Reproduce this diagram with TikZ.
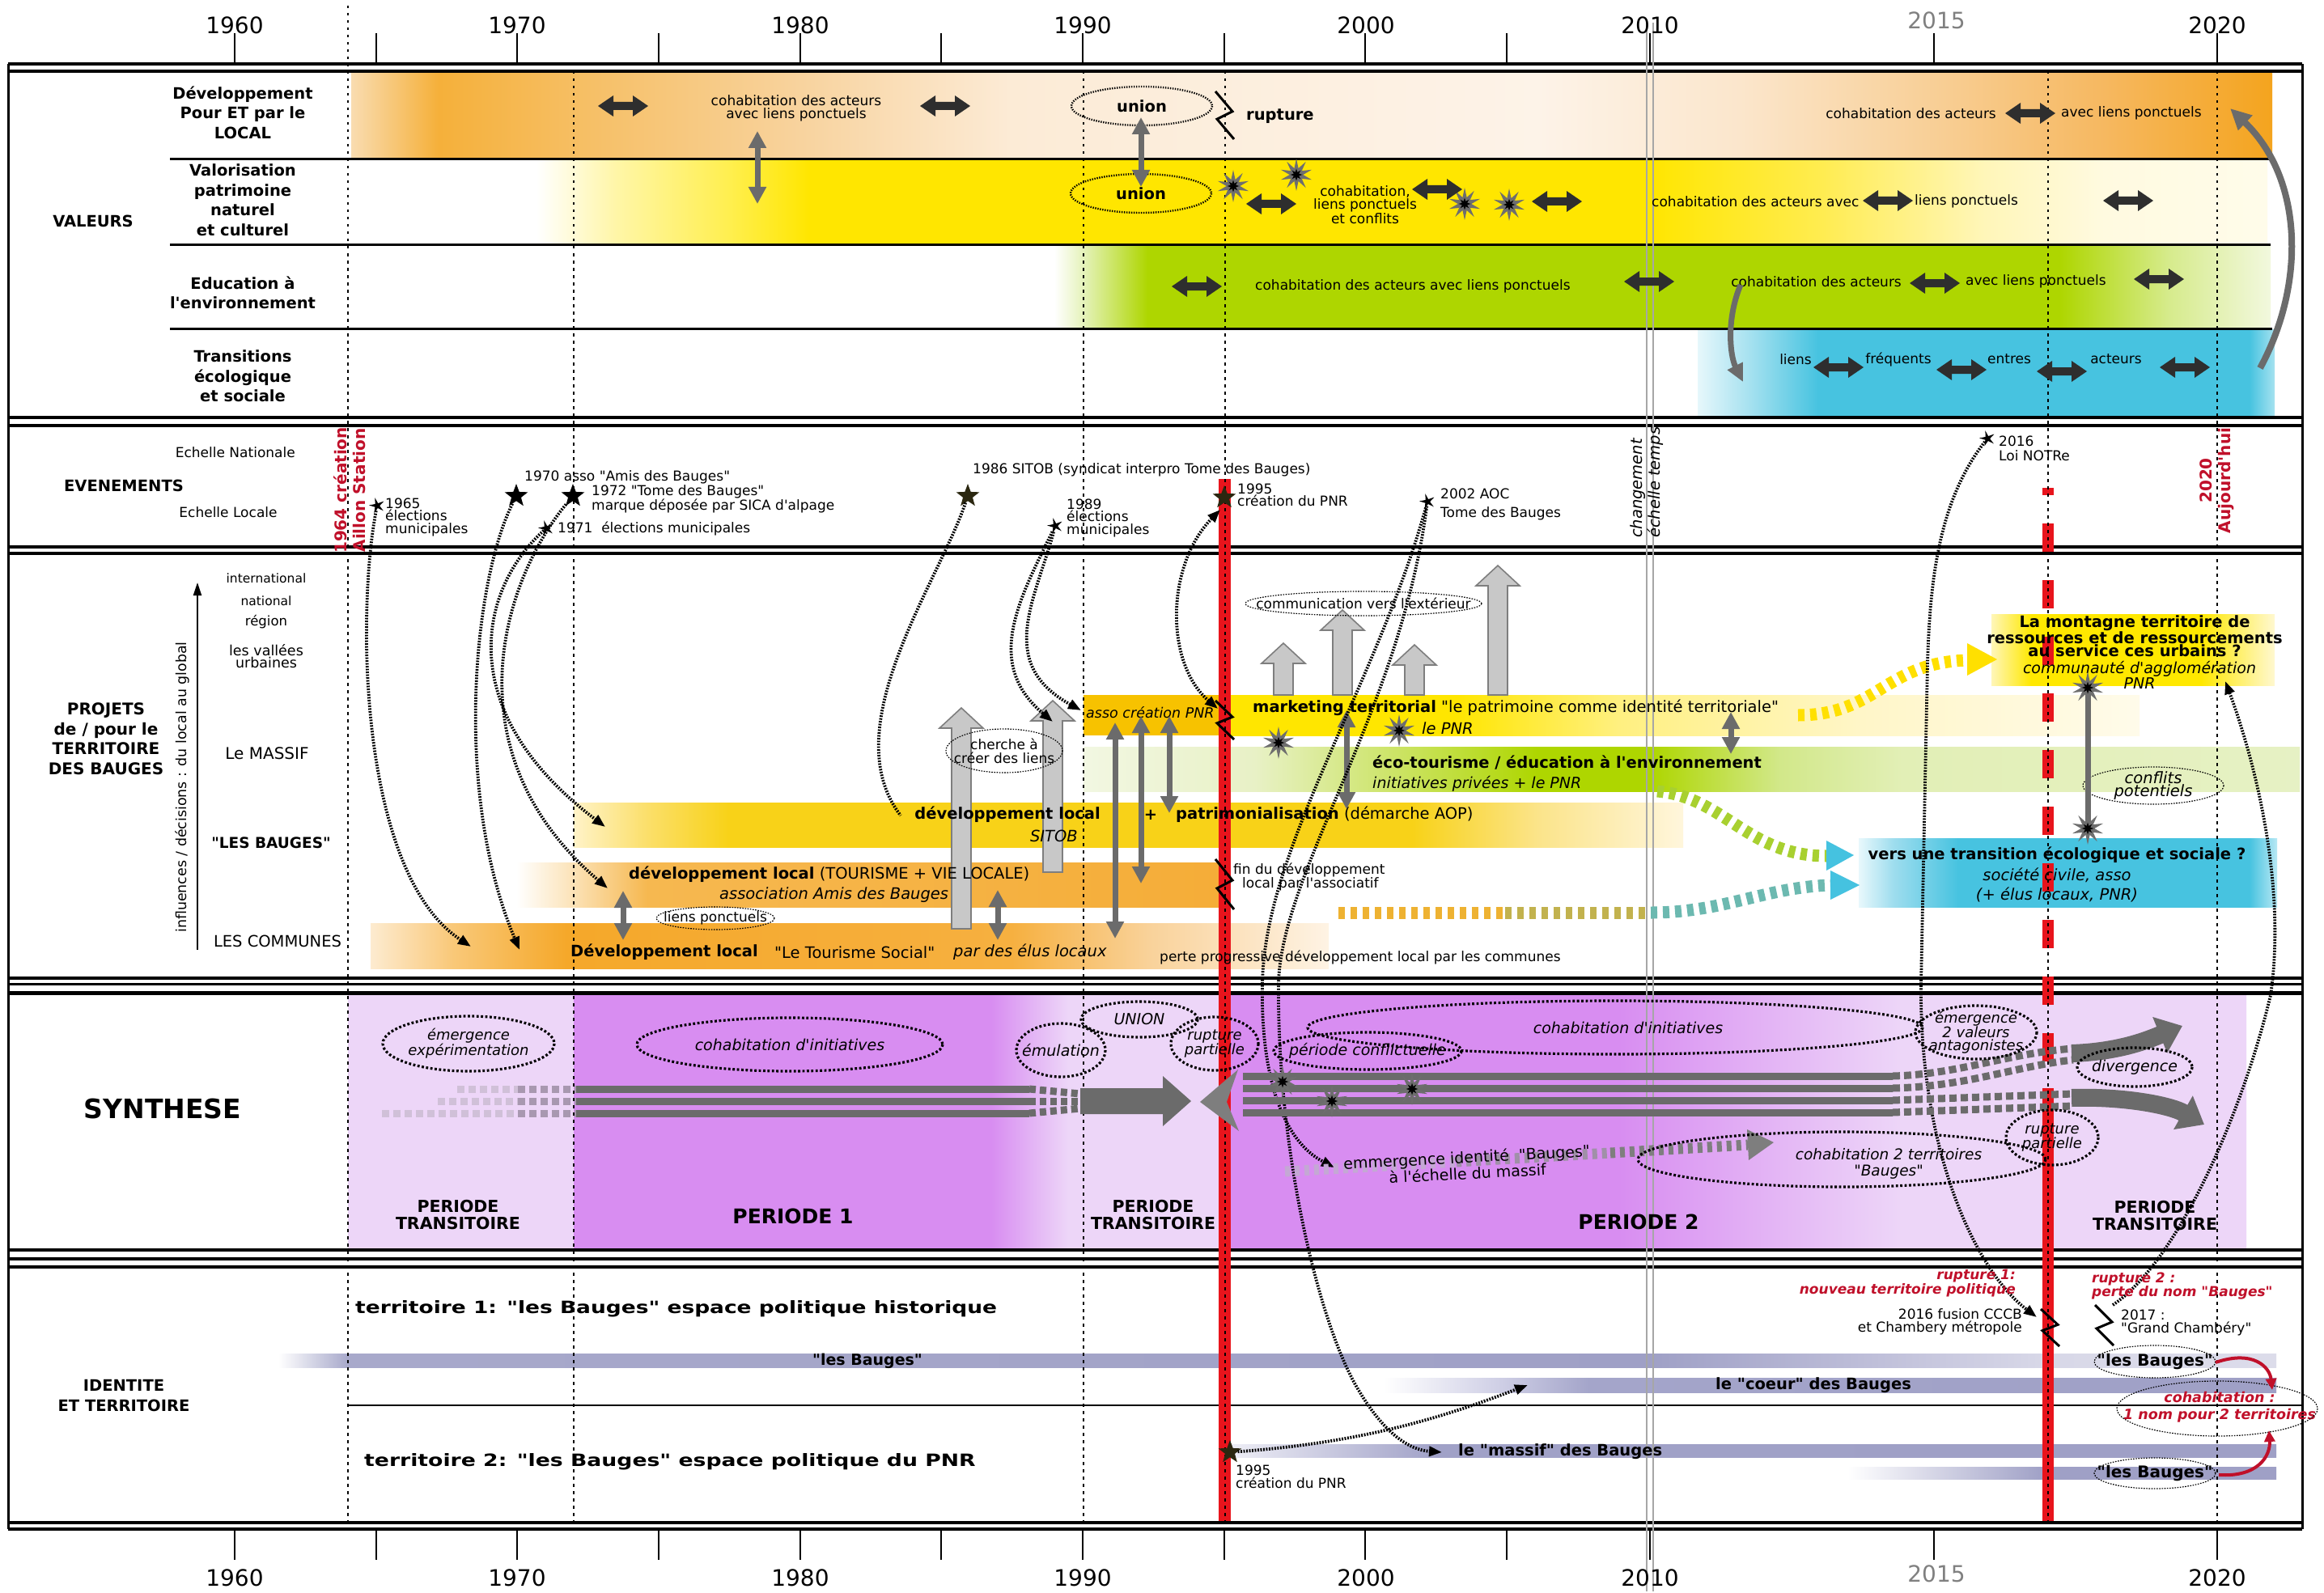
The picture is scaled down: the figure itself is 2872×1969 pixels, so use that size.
\documentclass[tikz,border=0pt]{standalone}
\usepackage{fontspec}
\setmainfont{DejaVu Sans}
\newfontfamily\dvs{DejaVu Sans}
\usepackage{graphicx}
\usetikzlibrary{shapes.geometric,arrows.meta}
\newcommand\fz[2]{\fontsize{#1}{#2}\selectfont}
\newcommand\hx[1]{\definecolor{x#1}{HTML}{#1}}
\hx{FFFFFF}\hx{F9DCB0}\hx{F5B03A}\hx{F6BE62}\hx{F8D39E}\hx{FCEBD6}\hx{FDF3E8}\hx{FBE6CC}\hx{F8CE94}\hx{F6B860}\hx{F4A41E}
\hx{FFF6A8}\hx{FFEF50}\hx{FFE600}\hx{FFEC50}\hx{FFF6B8}\hx{FFFAE0}\hx{FFFCEA}
\hx{E4F2B8}\hx{AED600}\hx{D6EB8C}\hx{F2F8DE}
\hx{E6F7FB}\hx{A8E2F0}\hx{47C3E0}\hx{A6E2F0}
\hx{FFF3C8}\hx{FBDF6A}\hx{F8D218}\hx{FBE48A}\hx{FFF6DC}
\hx{FCE6C0}\hx{F6B850}\hx{F5AD38}
\hx{FDEBD0}\hx{F9C878}\hx{F5A82A}\hx{F6B040}\hx{F9D29A}\hx{FEF3E4}
\hx{FFF080}\hx{FFF6C8}\hx{FFFBEA}
\hx{F2F7E2}\hx{E8F1C6}\hx{C8E258}\hx{D2E88A}\hx{E2EFB6}\hx{E6F1C4}
\hx{FFE800}\hx{FFF8D0}
\hx{E8F8FC}\hx{9EDDEE}\hx{B8E8F4}
\hx{D88DF1}\hx{EDD6F8}
\hx{A8A9CB}\hx{9FA0C6}\hx{BDBDD8}\hx{D8D8E8}\hx{DCDCEA}\hx{D0D0E6}\hx{A4A5CA}\hx{EEEEF6}\hx{A0A1C7}
\hx{D0C0D8}\hx{A898B0}\hx{C4A8D4}\hx{A090A8}\hx{7E7E7E}\hx{EEB232}\hx{C2B24E}\hx{6CB9B0}
\definecolor{dk}{HTML}{2E2E2E}
\definecolor{gdark}{HTML}{6B6B6B}
\definecolor{ltg}{HTML}{C8C8C8}
\definecolor{midg}{HTML}{7E7E7E}
\definecolor{boomg}{HTML}{6E6E6E}
\definecolor{redbar}{HTML}{E8141C}
\definecolor{rtxt}{HTML}{C0102A}
\definecolor{olivestar}{HTML}{2B2710}
\definecolor{goldb}{HTML}{F7C200}
\definecolor{yelA}{HTML}{FFE000}
\definecolor{grnA}{HTML}{A8D030}
\definecolor{cyanH}{HTML}{45C2E0}
\pgfdeclarehorizontalshading{sr1}{100bp}{color(0bp)=(xF9DCB0); color(25bp)=(xF9DCB0); color(27.27bp)=(xF5B03A); color(30.79bp)=(xF6BE62); color(36.71bp)=(xF8D39E); color(42.19bp)=(xFCEBD6); color(55.88bp)=(xFDF3E8); color(61.14bp)=(xFBE6CC); color(66.41bp)=(xF8CE94); color(70.62bp)=(xF6B860); color(75bp)=(xF4A41E); color(100bp)=(xF4A41E)}
\pgfdeclarehorizontalshading{sr2}{100bp}{color(0bp)=(xFFFFFF); color(25bp)=(xFFFFFF); color(27.27bp)=(xFFF6A8); color(30.54bp)=(xFFEF50); color(32.88bp)=(xFFE600); color(57.19bp)=(xFFE600); color(62.1bp)=(xFFEC50); color(66.77bp)=(xFFF6B8); color(70.28bp)=(xFFFAE0); color(75bp)=(xFFFCEA); color(100bp)=(xFFFCEA)}
\pgfdeclarehorizontalshading{sr3}{100bp}{color(0bp)=(xFFFFFF); color(25bp)=(xFFFFFF); color(26.23bp)=(xE4F2B8); color(28.83bp)=(xAED600); color(66.32bp)=(xAED600); color(70.81bp)=(xD6EB8C); color(75bp)=(xF2F8DE); color(100bp)=(xF2F8DE)}
\pgfdeclarehorizontalshading{sr4}{100bp}{color(0bp)=(xE6F7FB); color(25bp)=(xE6F7FB); color(29.35bp)=(xA8E2F0); color(35.45bp)=(x47C3E0); color(72.83bp)=(x47C3E0); color(75bp)=(xA6E2F0); color(100bp)=(xA6E2F0)}
\pgfdeclarehorizontalshading{sbau}{100bp}{color(0bp)=(xFFF3C8); color(25bp)=(xFFF3C8); color(28.32bp)=(xFBDF6A); color(31.97bp)=(xF8D218); color(62.78bp)=(xF8D218); color(68.44bp)=(xFBE48A); color(75bp)=(xFFF6DC); color(100bp)=(xFFF6DC)}
\pgfdeclarehorizontalshading{stou}{100bp}{color(0bp)=(xFFFFFF); color(25bp)=(xFFFFFF); color(28.56bp)=(xFCE6C0); color(34.31bp)=(xF6B850); color(75bp)=(xF5AD38); color(100bp)=(xF5AD38)}
\pgfdeclarehorizontalshading{scom}{100bp}{color(0bp)=(xFDEBD0); color(25bp)=(xFDEBD0); color(29.31bp)=(xF9C878); color(35.22bp)=(xF5A82A); color(58.45bp)=(xF6B040); color(65.63bp)=(xF9D29A); color(75bp)=(xFEF3E4); color(100bp)=(xFEF3E4)}
\pgfdeclarehorizontalshading{smar}{100bp}{color(0bp)=(xFFE600); color(25bp)=(xFFE600); color(37.85bp)=(xFFE600); color(46.65bp)=(xFFF080); color(59.86bp)=(xFFF6C8); color(75bp)=(xFFFBEA); color(100bp)=(xFFFBEA)}
\pgfdeclarehorizontalshading{seco}{100bp}{color(0bp)=(xF2F7E2); color(25bp)=(xF2F7E2); color(32.02bp)=(xE8F1C6); color(38.67bp)=(xC8E258); color(43.66bp)=(xAED600); color(48.32bp)=(xAED600); color(53.64bp)=(xD2E88A); color(58.63bp)=(xE2EFB6); color(75bp)=(xE6F1C4); color(100bp)=(xE6F1C4)}
\pgfdeclarehorizontalshading{smon}{100bp}{color(0bp)=(xFFF6B8); color(25bp)=(xFFF6B8); color(32bp)=(xFFE800); color(62bp)=(xFFE800); color(75bp)=(xFFF8D0); color(100bp)=(xFFF8D0)}
\pgfdeclarehorizontalshading{stra}{100bp}{color(0bp)=(xE8F8FC); color(25bp)=(xE8F8FC); color(29.16bp)=(x9EDDEE); color(36.9bp)=(x47C3E0); color(71.71bp)=(x47C3E0); color(75bp)=(xB8E8F4); color(100bp)=(xB8E8F4)}
\pgfdeclarehorizontalshading{sp1}{100bp}{color(0bp)=(xD88DF1); color(25bp)=(xD88DF1); color(65.95bp)=(xD88DF1); color(73.5bp)=(xEDD6F8); color(75bp)=(xEDD6F8); color(100bp)=(xEDD6F8)}
\pgfdeclarehorizontalshading{sp2}{100bp}{color(0bp)=(xD88DF1); color(25bp)=(xD88DF1); color(44.28bp)=(xD88DF1); color(58.14bp)=(xEDD6F8); color(75bp)=(xEDD6F8); color(100bp)=(xEDD6F8)}
\pgfdeclarehorizontalshading{sl1}{100bp}{color(0bp)=(xFFFFFF); color(25bp)=(xFFFFFF); color(26.74bp)=(xA8A9CB); color(59.35bp)=(x9FA0C6); color(64.6bp)=(xBDBDD8); color(69.2bp)=(xD8D8E8); color(75bp)=(xDCDCEA); color(100bp)=(xDCDCEA)}
\pgfdeclarehorizontalshading{sl2}{100bp}{color(0bp)=(xFFFFFF); color(25bp)=(xFFFFFF); color(31.35bp)=(xD0D0E6); color(36.47bp)=(xA4A5CA); color(75bp)=(x9FA0C6); color(100bp)=(x9FA0C6)}
\pgfdeclarehorizontalshading{sl3}{100bp}{color(0bp)=(xEEEEF6); color(25bp)=(xEEEEF6); color(34.9bp)=(xA0A1C7); color(75bp)=(x9FA0C6); color(100bp)=(x9FA0C6)}
\pgfdeclarehorizontalshading{sl4}{100bp}{color(0bp)=(xFFFFFF); color(25bp)=(xFFFFFF); color(48bp)=(x9FA0C6); color(75bp)=(x9FA0C6); color(100bp)=(x9FA0C6)}
\newcommand\dba[2]{\fill[dk,shift={(#1,#2)}] (-31,0) -- (-12,-13) -- (-12,-5) -- (12,-5) -- (12,-13) -- (31,0) -- (12,13) -- (12,5) -- (-12,5) -- (-12,13) -- cycle;}
\newcommand\uar[3]{\filldraw[fill=ltg,draw=midg,line width=1.6] ({#1-12},#3) -- ({#1-12},{#2+25}) -- ({#1-27},{#2+25}) -- (#1,#2) -- ({#1+27},{#2+25}) -- ({#1+12},{#2+25}) -- ({#1+12},#3) -- cycle;}
\newcommand\vda[3]{\draw[line width=7,draw=gdark,{Triangle[length=21pt,width=21pt]}-{Triangle[length=21pt,width=21pt]}] (#1,#2) -- (#1,#3);}
\newcommand\boom[2]{\node[star,star points=10,star point ratio=2.4,minimum size=40,inner sep=0,fill=boomg] at (#1,#2) {};\node[star,star points=8,star point ratio=2.2,minimum size=15,inner sep=0,fill=black] at (#1,#2) {};}
\newcommand\zig[3]{\draw[line width=3,line join=miter,miter limit=10] ({#1-11},#2) -- ({#1+10},{#2+0.42*#3}) -- ({#1-9},{#2+0.58*#3}) -- ({#1+12},{#2+#3});}
\begin{document}
\dvs
\begin{tikzpicture}[x=1pt,y=-1pt,
  tx/.style={inner sep=0,align=center,font=\fz{17}{15.5}},
  txl/.style={inner sep=0,align=left,font=\fz{17}{15.5}},
  txr/.style={inner sep=0,align=right,font=\fz{17}{16.5}},
  lab/.style={inner sep=0,align=center,font=\fz{19.5}{24.5}\bfseries},
  bd/.style={inner sep=0,font=\fz{19.5}{24}},
  bdb/.style={inner sep=0,font=\fz{19.5}{24}\bfseries},
  bdi/.style={inner sep=0,font=\fz{19.5}{24}\itshape},
  it/.style={inner sep=0,align=center,font=\fz{19}{16}\itshape},
  yr/.style={inner sep=0,font=\fz{28}{28}},
  vdot/.style={line width=2.6,dash pattern=on 3.5pt off 5.5pt},
  dch/.style={line width=3.8,dash pattern=on 1.9pt off 1.6pt,-{Triangle[length=16pt,width=12pt]}},
  dchn/.style={line width=3.8,dash pattern=on 1.9pt off 1.6pt},
  uell/.style={line width=2.4,dash pattern=on 1.4pt off 1.6pt},
  pdot/.style={line width=1.2,dash pattern=on 1.6pt off 1.6pt},
  sell/.style={line width=3.2,dash pattern=on 2.8pt off 2.6pt},
  bstar/.style={star,star points=5,star point ratio=2.4,inner sep=0,minimum size=30,fill=black},
  sstar/.style={star,star points=5,star point ratio=3.2,inner sep=0,minimum size=20,fill=black},
  tiret/.style={line width=15,dash pattern=on 8pt off 7pt}]
\useasboundingbox (0,0) rectangle (2872,1969);
\fill[white] (0,0) rectangle (2872,1969);

% ---------------- bands / backgrounds ----------------
\shade[shading=sr1] (434,90) rectangle (2808,196);
\shade[shading=sr2] (663,197) rectangle (2802,302);
\shade[shading=sr3] (1303,303) rectangle (2806,405);
\shade[shading=sr4] (2098,407) rectangle (2811,513);

\shade[shading=sbau] (709,992) rectangle (2080,1047);
\shade[shading=stou] (638,1066) rectangle (1508,1121);
\shade[shading=scom] (458,1141) rectangle (1642,1197);
\fill[goldb] (1339,859) rectangle (1508,909);
\shade[shading=smar] (1508,859) rectangle (2644,909);
\shade[shading=seco] (1339,923) rectangle (2842,978);
\shade[shading=smon] (2461,759) rectangle (2811,847);
\shade[shading=stra] (2297,1036) rectangle (2814,1121);

\fill[xEDD6F8] (430,1230) rectangle (709,1543);
\shade[shading=sp1] (709,1230) rectangle (1339,1543);
\fill[xEDD6F8] (1339,1230) rectangle (1513,1543);
\shade[shading=sp2] (1513,1230) rectangle (2776,1543);

\shade[shading=sl1] (344,1673) rectangle (2813,1690);
\shade[shading=sl2] (1710,1703) rectangle (2813,1721);
\shade[shading=sl3] (1520,1785) rectangle (2813,1801);
\shade[shading=sl4] (2283,1813) rectangle (2813,1828);

% ---------------- frame ----------------
\foreach \y/\w in {79/4,88/4.5,516/4,526/4.5,676/4,684/4,1209/3.5,1216/3,1227/5,1545/4,1556/4,1566/4,1882/4,1890/4}
  \draw[line width=\w] (10,\y) -- (2845,\y);
\draw[line width=3] (10,79) -- (10,1890);
\draw[line width=3] (2845,79) -- (2845,1890);
\foreach \y/\e in {197/2804,303/2806,406/2808}
  \draw[line width=3] (210,\y) -- (\e,\y);
\draw[line width=2] (430,1737) -- (2845,1737);

\draw[gray!70,line width=1.3] (2035,28) -- (2035,1967);
\draw[gray!70,line width=1.3] (2043,28) -- (2043,1967);

\fill[redbar] (1506,592) rectangle (1521,1880);
\foreach \y in {577,647,...,1277}
  \fill[redbar] (2524,{max(\y,603)}) rectangle (2538,\y+35);
\fill[redbar] (2524,1345) rectangle (2538,1880);

\draw[vdot] (430,7) -- (430,1880);
\foreach \x in {709,1339,1514,2531,2740}
  \draw[vdot] (\x,88) -- (\x,1880);

\foreach \x in {290,465,639,814,989,1163,1338,1513,1687,1862,2039,2390,2740}
  {\draw[line width=2.4] (\x,41) -- (\x,79); \draw[line width=2.4] (\x,1890) -- (\x,1928);}
\foreach \x/\t in {290/1960,639/1970,989/1980,1338/1990,1688/2000,2039/2010,2740/2020}
  {\node[yr] at (\x,31) {\t}; \node[yr] at (\x,1950) {\t};}
\node[yr,text=gray] at (2393,25) {2015};
\node[yr,text=gray] at (2393,1945) {2015};

% ================= VALEURS =================
\node[lab] (vl1) at (300,139) {Développement\\Pour ET par le\\LOCAL};
\node[lab] (vl2) at (300,247) {Valorisation\\patrimoine\\naturel\\et culturel};
\node[lab] (vl3) at (300,362) {Education à\\l'environnement};
\node[lab] (vl4) at (300,465) {Transitions\\écologique\\et sociale};
\node[lab] (val) at (115,273) {VALEURS};

\dba{770}{131}\dba{1168}{131}\dba{2509}{140}
\node[tx] (r1t) at (984,134) {cohabitation des acteurs\\avec liens ponctuels};
\vda{936}{162}{252}
\node[inner sep=0,font=\fz{19.5}{20}\bfseries] (u1) at (1411,131) {union};
\draw[uell] (u1.center) ellipse [x radius=87,y radius=24];
\node[inner sep=0,font=\fz{19.5}{20}\bfseries] (u2) at (1410,239) {union};
\draw[uell] (u2.center) ellipse [x radius=87,y radius=24];
\vda{1410}{145}{231}
\zig{1513}{113}{59}
\node[inner sep=0,anchor=west,font=\fz{19.5}{20}\bfseries] (rup) at (1540,144) {rupture};
\node[tx,anchor=east] (r1a) at (2467,140) {cohabitation des acteurs};
\node[tx,anchor=west] (r1b) at (2547,140) {avec liens ponctuels};

\boom{1524}{230}\boom{1602}{216}\boom{1810}{252}\boom{1865}{253}
\dba{1571}{252}\dba{1776}{234}\dba{1924}{249}
\node[tx,font=\fz{17}{16}] (r2t) at (1687,253) {cohabitation,\\liens ponctuels\\et conflits};
\node[tx,anchor=west] (r2a) at (2041,249) {cohabitation des acteurs avec};
\dba{2333}{248}
\node[tx,anchor=west] (r2b) at (2366,249) {liens ponctuels};
\dba{2630}{248}

\dba{1479}{354}
\node[tx,anchor=west] (r3t) at (1551,354) {cohabitation des acteurs avec liens ponctuels};
\dba{2038}{348}
\node[tx,anchor=east] (r3a) at (2350,348) {cohabitation des acteurs};
\dba{2391}{350}
\node[tx,anchor=west] (r3b) at (2429,348) {avec liens ponctuels};
\dba{2668}{345}

\node[tx] (r4a) at (2219,444) {liens};
\dba{2272}{454}
\node[tx] (r4b) at (2346,444) {fréquents};
\dba{2424}{457}
\node[tx] (r4c) at (2483,444) {entres};
\dba{2548}{459}
\node[tx] (r4d) at (2615,444) {acteurs};
\dba{2700}{454}
\draw[line width=7,gdark,-{Triangle[length=22pt,width=20pt]}] (2151,352) .. controls (2133,395) and (2138,440) .. (2154,472);
\draw[line width=8,gdark,-{Triangle[length=26pt,width=24pt]}] (2793,455) .. controls (2850,350) and (2846,220) .. (2756,134);

% ================= EVENEMENTS =================
\node[tx,anchor=east] (en) at (365,559) {Echelle Nationale};
\node[tx] (el) at (282,633) {Echelle Locale};
\node[inner sep=0,font=\fz{19.5}{20}\bfseries] (ev) at (153,600) {EVENEMENTS};
\node[rotate=90,inner sep=0,align=center,text=rtxt,font=\fz{20}{23}\bfseries] (e1964) at (432,606) {1964 création\\Aillon Station};
\node[rotate=90,inner sep=0,align=left,anchor=west,font=\fz{19.5}{22}\itshape] (ech) at (2035,665) {changement\\échelle temps};
\node[rotate=90,inner sep=0,align=center,text=rtxt,font=\fz{20}{23}\bfseries] (e2020) at (2740,594) {2020\\Aujourd'hui};

\node[bstar] (s1970) at (638,613) {};
\node[bstar] (s1972) at (708,613) {};
\node[bstar,fill=olivestar] (s1986) at (1196,613) {};
\node[bstar,fill=olivestar] (s1995) at (1513,615) {};
\node[sstar,rotate=15] (s1965) at (466,625) {};
\node[sstar,rotate=15] (s1971) at (675,653) {};
\node[sstar,rotate=15] (s1989) at (1304,650) {};
\node[sstar,rotate=15] (s2002) at (1764,620) {};
\node[sstar,rotate=15] (s2016) at (2456,542) {};

\node[txl,anchor=west] at (476,639) {1965\\élections\\municipales};
\node[txl,anchor=west] at (648,590) {1970 asso "Amis des Bauges"};
\node[txl,anchor=west,font=\fz{17}{13.5}] at (731,617) {1972 "Tome des Bauges"\\marque déposée par SICA d'alpage};
\node[txl,anchor=west] at (689,653) {1971\ \ élections municipales};
\node[txl,anchor=west] at (1202,581) {1986 SITOB (syndicat interpro Tome des Bauges)};
\node[txl,anchor=west] at (1318,640) {1989\\élections\\municipales};
\node[txl,anchor=west] at (1529,612) {1995\\création du PNR};
\node[txl,anchor=west] at (1780,610) {2002 AOC};
\node[txl,anchor=west] at (1780,635) {Tome des Bauges};
\node[txl,anchor=west,font=\fz{17}{18}] at (2470,554) {2016\\Loi NOTRe};

% ================= PROJETS =================
\node[lab,font=\fz{20}{24.5}\bfseries] (proj) at (131,913) {PROJETS\\de / pour le\\TERRITOIRE\\DES BAUGES};
\draw[line width=2.2,-{Triangle[length=16pt,width=10pt]}] (244,1174) -- (244,720);
\node[rotate=90,inner sep=0,font=\fz{17.4}{18}] (infl) at (225,973) {influences / décisions : du local au global};
\node[inner sep=0,font=\fz{15.5}{16}] at (329,715) {international};
\node[inner sep=0,font=\fz{15.5}{16}] at (329,743) {national};
\node[inner sep=0,font=\fz{16.5}{16}] at (329,769) {région};
\node[inner sep=0,align=center,font=\fz{17.5}{15}] at (329,811) {les vallées\\urbaines};
\node[inner sep=0,font=\fz{20}{20}] at (330,931) {Le MASSIF};
\node[inner sep=0,font=\fz{18.5}{20}\bfseries] at (335,1042) {"LES BAUGES"};
\node[inner sep=0,font=\fz{19.5}{20}] at (343,1163) {LES COMMUNES};

\uar{1188}{875}{1148}\uar{1301}{866}{1078}\uar{1586}{795}{859}\uar{1659}{754}{859}\uar{1748}{797}{859}\uar{1851}{699}{859}

\node[inner sep=0,font=\fz{17}{17}] (lp) at (884,1135) {liens ponctuels};
\draw[pdot] (lp.center) ellipse [x radius=73,y radius=14];
\node[inner sep=0,align=center,font=\fz{17}{17}] (cl) at (1241,928) {cherche à\\créer des liens};
\draw[pdot] (cl.center) ellipse [x radius=72,y radius=27];
\node[inner sep=0,font=\fz{17}{17}] (com) at (1685,746) {communication vers l'extérieur};
\draw[pdot] (com.center) ellipse [x radius=146,y radius=15];

\node[bd,anchor=west] (t1) at (777,1081) {\textbf{développement local} (TOURISME + VIE LOCALE)};
\node[bdi,anchor=west] (t2) at (889,1106) {association Amis des Bauges};
\node[bdb,anchor=west] (t3) at (705,1177) {Développement local};
\node[bd,anchor=west] (t4) at (957,1177) {"Le Tourisme Social"};
\node[bdi,anchor=west] (t5) at (1178,1177) {par des élus locaux};
\node[bdb,anchor=east] (t6) at (1360,1007) {développement local};
\node[bdi,anchor=east] (t7) at (1332,1033) {SITOB};
\node[bdb] (t8) at (1422,1007) {+};
\node[bd,anchor=west] (t9) at (1453,1007) {\textbf{patrimonialisation} (démarche AOP)};
\node[inner sep=0,anchor=west,font=\fz{17.5}{18}\itshape] (t10) at (1342,881) {asso création PNR};
\node[bd,anchor=west] (t11) at (1548,875) {\textbf{marketing territorial} "le patrimoine comme identité territoriale"};
\node[bdi,anchor=west] (t12) at (1757,900) {le PNR};
\node[bdb,anchor=west] (t13) at (1696,943) {éco-tourisme / éducation à l'environnement};
\node[inner sep=0,anchor=west,font=\fz{19}{24}\itshape] (t14) at (1696,969) {initiatives privées + le PNR};
\node[txl,anchor=west,font=\fz{17}{16}] (t15) at (1524,1084) {fin du développement\\\hspace*{11pt}local par l'associatif};
\node[txl,anchor=west] (t16) at (1433,1183) {perte progressive développement local par les communes};
\node[inner sep=0,align=center,font=\fz{19.5}{16}\bfseries] (t17) at (2638,786) {La montagne territoire de\\ressources et de ressourcements\\au service ces urbains ?};
\node[inner sep=0,align=center,font=\fz{19}{17}\itshape] (t18) at (2644,834) {communauté d'agglomération\\PNR};
\node[bdb] (t19) at (2542,1057) {vers une transition écologique et sociale ?};
\node[inner sep=0,align=center,font=\fz{19.5}{24}\itshape] (t20) at (2542,1094) {société civile, asso\\(+ élus locaux, PNR)};
\node[inner sep=0,align=center,font=\fz{19.5}{16}\itshape] (cp) at (2661,971) {conflits\\potentiels};
\draw[pdot] (cp.center) ellipse [x radius=87,y radius=23];

\vda{770}{1101}{1162}\vda{1233}{1100}{1162}\vda{1378}{893}{1160}\vda{1410}{885}{1092}\vda{1445}{885}{1005}\vda{1664}{878}{1000}\vda{2139}{880}{932}

\boom{1580}{918}\boom{1729}{903}
\draw[line width=7,gdark] (2580,850) -- (2580,1024);
\boom{2580}{850}\boom{2580}{1024}

\zig{1513}{866}{48}
\zig{1513}{1062}{62}

\draw[tiret,yelA] (2222,884) .. controls (2320,884) and (2330,818) .. (2433,816);
\fill[yelA] (2431,795) -- (2468,815) -- (2431,835) -- cycle;
\draw[tiret,grnA] (2048,978) .. controls (2130,985) and (2160,1058) .. (2257,1058);
\fill[cyanH] (2257,1039) -- (2291,1057) -- (2257,1076) -- cycle;
\draw[tiret,xEEB232] (1654,1128) -- (1860,1128);
\draw[tiret,xC2B24E] (1860,1128) -- (2040,1128);
\draw[tiret,x6CB9B0] (2040,1128) .. controls (2130,1128) and (2180,1097) .. (2262,1094);
\fill[cyanH] (2262,1076) -- (2298,1094) -- (2262,1112) -- cycle;

\draw[dch] (s1965) .. controls (440,760) and (445,1080) .. (582,1170);
\draw[dch] (s1970) .. controls (585,720) and (560,980) .. (642,1174);
\draw[dch] (s1971) .. controls (590,730) and (560,880) .. (748,1022);
\draw[dch] (s1972) .. controls (620,720) and (555,930) .. (751,1098);
\draw[dchn] (s1986) .. controls (1160,720) and (1030,900) .. (1113,1008);
\draw[dch] (s1989) .. controls (1260,740) and (1215,820) .. (1301,892);
\draw[dch] (s1989) .. controls (1280,740) and (1230,820) .. (1336,878);
\draw[line width=3.8,dash pattern=on 1.9pt off 1.6pt,{Triangle[length=16pt,width=12pt]}-{Triangle[length=16pt,width=12pt]}] (1508,630) .. controls (1440,700) and (1440,820) .. (1505,876);
\draw[dch] (s2002) .. controls (1700,850) and (1562,1050) .. (1560,1217) .. controls (1558,1330) and (1585,1410) .. (1649,1443);
\draw[dch] (s2002) .. controls (1730,880) and (1582,1080) .. (1580,1217) .. controls (1578,1420) and (1630,1640) .. (1680,1720) .. controls (1710,1770) and (1740,1792) .. (1782,1795);
\draw[dch] (s2016) .. controls (2395,620) and (2385,720) .. (2382,820) -- (2374,1217) .. controls (2372,1420) and (2440,1570) .. (2517,1628);
\coordinate (r2end) at (2611,1613);
\draw[dch] (r2end) .. controls (2690,1560) and (2770,1380) .. (2806,1230) .. controls (2825,1100) and (2790,950) .. (2750,842);

% ================= SYNTHESE =================
\node[inner sep=0,font=\fz{33}{33}\bfseries] (syn) at (201,1370) {SYNTHESE};
\foreach \y/\s in {1346/565,1361/541,1376/472}
  {\draw[line width=9,xD0C0D8,dash pattern=on 9pt off 5pt] (\s,\y) -- (640,\y);
   \draw[line width=9,xA898B0,dash pattern=on 9pt off 5pt] (640,\y) -- (712,\y);
   \draw[line width=9,gdark] (712,\y) -- (1272,\y);
   \draw[line width=9,gdark,dash pattern=on 8pt off 5pt] (1272,\y) -- (1335,{1361+(\y-1361)*0.6});}
\fill[gdark] (1335,1345) -- (1437,1345) -- (1437,1330) -- (1472,1361) -- (1437,1392) -- (1437,1377) -- (1335,1377) -- cycle;
\fill[midg] (1530,1322) -- (1483,1362) -- (1531,1398) -- (1516,1362) -- cycle;
\foreach \y in {1330,1345,1360,1375}
  \draw[line width=9,gdark] (1536,\y) -- (2339,\y);
\boom{1585}{1337}\boom{1646}{1361}\boom{1745}{1346}
\draw[line width=9,gdark,dash pattern=on 9pt off 5pt] (2339,1330) .. controls (2420,1328) and (2480,1302) .. (2562,1296);
\draw[line width=9,gdark,dash pattern=on 9pt off 5pt] (2339,1345) .. controls (2430,1343) and (2490,1318) .. (2562,1310);
\draw[line width=9,gdark,dash pattern=on 9pt off 5pt] (2339,1360) -- (2562,1352);
\draw[line width=9,gdark,dash pattern=on 9pt off 5pt] (2339,1375) -- (2562,1367);
\draw[line width=22,gdark,-{Triangle[length=30pt,width=46pt]}] (2560,1302) .. controls (2620,1300) and (2655,1285) .. (2697,1268);
\draw[line width=22,gdark,-{Triangle[length=30pt,width=46pt]}] (2560,1357) .. controls (2620,1355) and (2680,1365) .. (2724,1390);

\draw[line width=13,xC4A8D4,dash pattern=on 6pt off 6pt] (1588,1448) -- (1800,1436);
\draw[line width=13,xA090A8,dash pattern=on 6pt off 6pt] (1800,1436) -- (1990,1425);
\draw[line width=13,x7E7E7E,dash pattern=on 6pt off 6pt] (1990,1425) -- (2160,1415);
\fill[x7E7E7E] (2159,1396) -- (2192,1412) -- (2161,1434) -- cycle;
\node[rotate=3,inner sep=0,align=center,font=\fz{19}{17}] (emm) at (1813,1440) {emmergence identité\ \ "Bauges"\\à l'échelle du massif};

\node[it,font=\fz{18}{15}\itshape] (e1) at (579,1290) {émergence\\expérimentation};
\draw[sell] (e1.center) ellipse [x radius=106,y radius=34];
\node[it] (e2) at (976,1291) {cohabitation d'initiatives};
\draw[sell] (e2.center) ellipse [x radius=189,y radius=33];
\node[it] (e3) at (1311,1298) {émulation};
\draw[sell] (e3.center) ellipse [x radius=55,y radius=33];
\node[it] (e4) at (1408,1260) {UNION};
\draw[sell] (e4.center) ellipse [x radius=72,y radius=22];
\node[it,font=\fz{18}{15}\itshape] (e5) at (1501,1290) {rupture\\partielle};
\draw[sell] (e5.center) ellipse [x radius=54,y radius=33];
\node[it] (e6) at (1690,1299) {période conflictuelle};
\draw[sell] (e6.center) ellipse [x radius=116,y radius=23];
\node[it] (e7) at (2012,1270) {cohabitation d'initiatives};
\draw[sell] (1996,1270) ellipse [x radius=380,y radius=33];
\node[it,font=\fz{18}{15.5}\itshape] (e8) at (2442,1276) {émergence\\2 valeurs\\antagonistes};
\draw[sell] (e8.center) ellipse [x radius=75,y radius=33];
\node[it] (e9) at (2638,1319) {divergence};
\draw[sell] (e9.center) ellipse [x radius=71,y radius=24];
\node[it,font=\fz{18}{17}\itshape] (e10) at (2536,1406) {rupture\\partielle};
\draw[sell] (e10.center) ellipse [x radius=57,y radius=34];
\node[it,font=\fz{18.5}{20}\itshape] (e11) at (2334,1438) {cohabitation 2 territoires\\"Bauges"};
\draw[sell] (2276,1433) ellipse [x radius=252,y radius=34];

\node[lab,font=\fz{20.5}{21}\bfseries] (pt1) at (566,1502) {PERIODE\\TRANSITOIRE};
\node[inner sep=0,font=\fz{25}{25}\bfseries] (p1) at (980,1503) {PERIODE 1};
\node[lab,font=\fz{20.5}{21}\bfseries] (pt2) at (1425,1502) {PERIODE\\TRANSITOIRE};
\node[inner sep=0,font=\fz{25}{25}\bfseries] (p2) at (2025,1510) {PERIODE 2};
\node[lab,font=\fz{20.5}{21}\bfseries] (pt3) at (2663,1503) {PERIODE\\TRANSITOIRE};

% ================= IDENTITE =================
\node[lab] (idt) at (153,1725) {IDENTITE\\ET TERRITOIRE};
\node[anchor=west,inner sep=0,font=\fz{21}{21}\bfseries] (ter1) at (439,1618) {\scalebox{1.26}[1]{territoire 1: "les Bauges" espace politique historique}};
\node[anchor=west,inner sep=0,font=\fz{21}{21}\bfseries] (ter2) at (450,1807) {\scalebox{1.27}[1]{territoire 2: "les Bauges" espace politique du PNR}};
\node[inner sep=0,font=\fz{19}{19}\bfseries] (lbh) at (1072,1682) {"les Bauges"};
\node[inner sep=0,font=\fz{19.5}{20}\bfseries] (coeur) at (2241,1712) {le "coeur" des Bauges};
\node[inner sep=0,anchor=west,font=\fz{19.5}{20}\bfseries] (massif) at (1802,1794) {le "massif" des Bauges};
\node[inner sep=0,font=\fz{20}{20}\bfseries] (lb1) at (2663,1683) {"les Bauges"};
\draw[pdot] (lb1.center) ellipse [x radius=75,y radius=20];
\node[inner sep=0,font=\fz{20}{20}\bfseries] (lb2) at (2663,1821) {"les Bauges"};
\draw[pdot] (lb2.center) ellipse [x radius=75,y radius=19];
\node[inner sep=0,align=center,text=rtxt,font=\fz{17.5}{21}\bfseries\itshape] (coh) at (2743,1739) {cohabitation :\\1 nom pour 2 territoires};
\draw[pdot] (2740,1741) ellipse [x radius=124,y radius=34];
\node[inner sep=0,align=right,anchor=east,text=rtxt,font=\fz{17}{18}\bfseries\itshape] (rup1) at (2491,1586) {rupture 1:\\nouveau territoire politique};
\node[inner sep=0,align=left,anchor=west,text=rtxt,font=\fz{17}{17}\bfseries\itshape] (rup2) at (2585,1590) {rupture 2 :\\perte du nom "Bauges"};
\node[txr,anchor=east] (fus) at (2499,1634) {2016 fusion CCCB\\et Chambery métropole};
\node[txl,anchor=west,font=\fz{17}{16.5}] (gc) at (2621,1635) {2017 :\\"Grand Chambéry"};
\node[bstar,fill=olivestar] (s1995b) at (1520,1795) {};
\node[txl,anchor=west,font=\fz{17}{16}] (pnr) at (1527,1825) {1995\\création du PNR};
\zig{2533}{1618}{46}
\zig{2600}{1613}{50}
\draw[dch] (s1995b) .. controls (1700,1782) and (1800,1745) .. (1888,1712);
\draw[line width=4,rtxt,-{Triangle[length=14pt,width=13pt]}] (2738,1684) .. controls (2785,1668) and (2805,1690) .. (2808,1718);
\draw[line width=4,rtxt,-{Triangle[length=14pt,width=13pt]}] (2742,1823) .. controls (2790,1826) and (2806,1800) .. (2804,1768);
\end{tikzpicture}
\end{document}
